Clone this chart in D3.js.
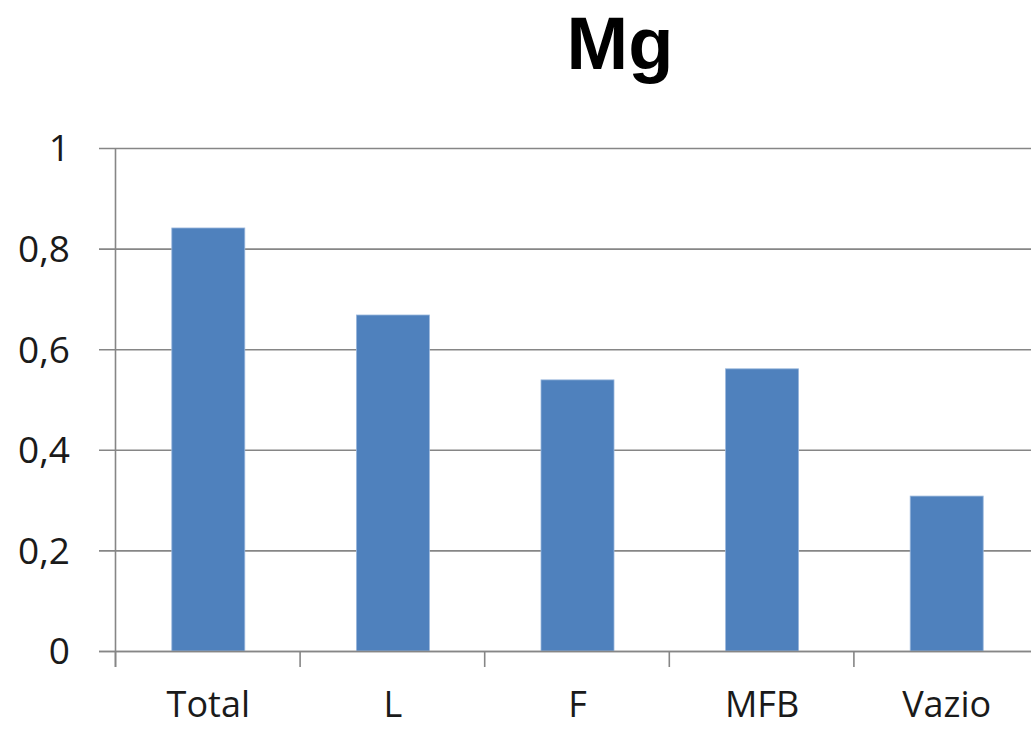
<!DOCTYPE html>
<html><head><meta charset="utf-8">
<script src="https://cdn.jsdelivr.net/npm/d3@7"></script>
<style>body{margin:0;background:#fff}svg{display:block}</style>
</head><body>
<script>
const title = "Mg";
const categories = ["Total", "L", "F", "MFB", "Vazio"];
const values = [0.841, 0.668, 0.539, 0.561, 0.308];
const yTicks = [0, 0.2, 0.4, 0.6, 0.8, 1];

const W = 1031, H = 729;
const svg = d3.select("body").append("svg").attr("width", W).attr("height", H);
const x0 = 116, x1 = 1039, yTop = 148, yBot = 651;
const xb = d3.scaleBand().domain(categories).range([x0, x1]);
const y = d3.scaleLinear().domain([0, 1]).range([yBot, yTop]);
const grid = "#868686";
const font = "'Open Sans', 'Liberation Sans', sans-serif";

// gridlines
svg.append("g").selectAll("line").data(yTicks).join("line")
  .attr("x1", 99).attr("x2", W).attr("y1", d => y(d) + 0.5).attr("y2", d => y(d) + 0.5)
  .attr("stroke", grid).attr("stroke-width", 1.6);

// bars
svg.append("g").selectAll("rect").data(values).join("rect")
  .attr("x", (d, i) => xb(categories[i]) + xb.bandwidth() / 2 - 36.5)
  .attr("width", 73)
  .attr("y", d => y(d)).attr("height", d => yBot - y(d))
  .attr("fill", "#4F81BD").attr("stroke", "#9ab7dc").attr("stroke-width", 0.8);

// y axis line
svg.append("line").attr("x1", x0 - 0.5).attr("x2", x0 - 0.5).attr("y1", yTop).attr("y2", yBot + 16)
  .attr("stroke", grid).attr("stroke-width", 1.6);
// x axis line on top
svg.append("line").attr("x1", 99).attr("x2", W).attr("y1", yBot + 0.5).attr("y2", yBot + 0.5)
  .attr("stroke", grid).attr("stroke-width", 1.6);
// x ticks at band boundaries
svg.append("g").selectAll("line").data(categories).join("line")
  .attr("x1", d => xb(d) - 0.5).attr("x2", d => xb(d) - 0.5)
  .attr("y1", yBot).attr("y2", yBot + 16)
  .attr("stroke", grid).attr("stroke-width", 1.6);

// y labels
svg.append("g").selectAll("text").data(yTicks).join("text")
  .attr("x", 70).attr("y", d => y(d)).attr("dy", "0.36em")
  .attr("text-anchor", "end").attr("font-family", font).attr("font-size", 37)
  .attr("fill", "#1a1a1a")
  .text(d => d3.format(".1f")(d).replace(".", ",").replace(/^0,0$/, "0").replace(/^1,0$/, "1"));

// x labels
svg.append("g").selectAll("text").data(categories).join("text")
  .attr("x", d => xb(d) + xb.bandwidth() / 2).attr("y", 717)
  .attr("text-anchor", "middle").attr("font-family", font).attr("font-size", 36)
  .attr("fill", "#1a1a1a").text(d => d);

// title
svg.append("text").attr("x", 620).attr("y", 69).attr("text-anchor", "middle")
  .attr("font-family", "'Liberation Sans', Arial, sans-serif").attr("font-weight", "bold")
  .attr("font-size", 74).attr("fill", "#000").text(title);
</script>
</body></html>
